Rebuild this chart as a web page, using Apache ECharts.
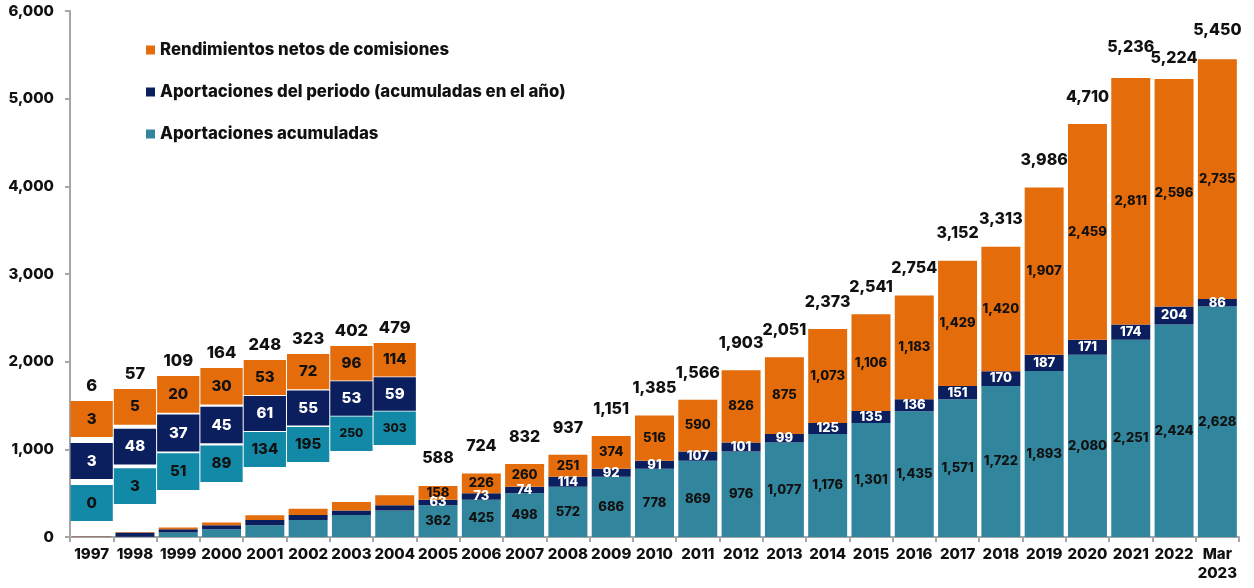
<!DOCTYPE html>
<html>
<head>
<meta charset="utf-8">
<script src="https://cdn.jsdelivr.net/npm/echarts@6/dist/echarts.min.js"></script>
<style>
html,body{margin:0;padding:0;background:#fff;}
#chart{width:1254px;height:588px;}
</style>
</head>
<body>
<div id="chart"></div>
<script>
// ---- data ----
var categories = ['1997','1998','1999','2000','2001','2002','2003','2004','2005','2006','2007','2008','2009','2010','2011','2012','2013','2014','2015','2016','2017','2018','2019','2020','2021','2022','Mar\n2023'];
var acumuladas = [0,3,51,89,134,195,250,303,362,425,498,572,686,778,869,976,1077,1176,1301,1435,1571,1722,1893,2080,2251,2424,2628];
var periodo = [3,48,37,45,61,55,53,59,63,73,74,114,92,91,107,101,99,125,135,136,151,170,187,171,174,204,86];
var rendimientos = [3,5,20,30,53,72,96,114,158,226,260,251,374,516,590,826,875,1073,1106,1183,1429,1420,1907,2459,2811,2596,2735];
var totales = [6,57,109,164,248,323,402,479,588,724,832,937,1151,1385,1566,1903,2051,2373,2541,2754,3152,3313,3986,4710,5236,5224,5450];
var yTicks = [0,1000,2000,3000,4000,5000,6000];
var seriesNames = ['Rendimientos netos de comisiones','Aportaciones del periodo (acumuladas en el año)','Aportaciones acumuladas'];

// ---- layout only (axis units / pixels, not data) ----
var insetCount = 8;
var insetBottom = [182,376,536,627,798,855,981,1049];
var insetTop = [1551,1688,1836,1928,2019,2087,2179,2213];
var insetGap = [69,45,20,25,10,15,10,8];
// vertical pixel lift of total labels above bar tops (default 27)
var totalLift = {20: 27, 24: 31, 25: 21, 26: 29};

var C_ORANGE = '#E46C0A', C_NAVY = '#0B1F5E', C_TEAL = '#31869E', C_TEAL2 = '#128AA7';
var FONT = "Inter, 'Open Sans', sans-serif";
var FW = 800;

function fmt(v){ return Number(v).toLocaleString('en-US'); }

var chart = echarts.init(document.getElementById('chart'), null, {renderer:'canvas'});

var insetData = [];
for (var i = 0; i < insetCount; i++) {
  insetData.push([i, acumuladas[i], periodo[i], rendimientos[i], totales[i], insetBottom[i], insetTop[i], insetGap[i]]);
}
var totalData = [];
for (var j = insetCount; j < categories.length; j++) totalData.push([j, totales[j]]);

function segLabel(color){
  return {
    show: true, position: 'inside', color: color, fontFamily: FONT, fontWeight: FW, fontSize: 13,
    formatter: function(p){ return p.dataIndex < insetCount ? '' : fmt(p.value); }
  };
}

var option = {
  animation: false,
  backgroundColor: '#fff',
  textStyle: {fontFamily: FONT},
  grid: {left: 70, right: 15, top: 11, bottom: 51, containLabel: false},
  legend: {
    data: seriesNames,
    orient: 'vertical', left: 146, top: 41, padding: 0,
    icon: 'rect', itemWidth: 9, itemHeight: 9, itemGap: 24,
    textStyle: {fontFamily: FONT, fontWeight: FW, fontSize: 16.8, color: '#111', lineHeight: 18},
    selectedMode: false
  },
  xAxis: {
    type: 'category', data: categories,
    axisLine: {lineStyle: {color: '#A6A6A6', width: 2}},
    axisTick: {show: true, length: 5, lineStyle: {color: '#A6A6A6', width: 2}},
    axisLabel: {color: '#111', fontFamily: FONT, fontWeight: FW, fontSize: 15, margin: 8, lineHeight: 19, interval: 0}
  },
  yAxis: {
    type: 'value', min: yTicks[0], max: yTicks[yTicks.length-1], interval: 1000,
    axisLine: {show: true, lineStyle: {color: '#A6A6A6', width: 2}},
    axisTick: {show: true, length: 5, lineStyle: {color: '#A6A6A6', width: 2}},
    splitLine: {show: false},
    axisLabel: {color: '#111', fontFamily: FONT, fontWeight: FW, fontSize: 15, margin: 16, formatter: function(v){ return fmt(v); }}
  },
  series: [
    {name: seriesNames[2], type: 'bar', stack: 'total', data: acumuladas, barCategoryGap: '10%',
      itemStyle: {color: C_TEAL}, label: segLabel('#111')},
    {name: seriesNames[1], type: 'bar', stack: 'total', data: periodo,
      itemStyle: {color: C_NAVY}, label: segLabel('#fff')},
    {name: seriesNames[0], type: 'bar', stack: 'total', data: rendimientos,
      itemStyle: {color: C_ORANGE}, label: segLabel('#111')},
    {name: 'totales', type: 'custom', data: totalData, z: 5,
      encode: {x: 0, y: 1},
      renderItem: function(params, api){
        var idx = api.value(0);
        var p = api.coord([idx, api.value(1)]);
        var lift = totalLift[idx] || 27;
        return {type: 'text', style: {text: fmt(api.value(1)), x: p[0], y: p[1] - lift, align: 'center', verticalAlign: 'middle',
          fill: '#111', fontFamily: FONT, fontWeight: FW, fontSize: 16}};
      }
    },
    {name: 'inset', type: 'custom', data: insetData, z: 4,
      encode: {x: 0, y: [5, 6]},
      renderItem: function(params, api){
        var idx = api.value(0);
        var bottom = api.value(5), top = api.value(6), gap = api.value(7);
        var h = (top - bottom - 2 * gap) / 3;
        var band = api.size([1, 0])[0];
        var cx = api.coord([idx, 0])[0];
        var x0 = cx - band / 2 + 0.5, w = band - 1;
        var vals = [api.value(1), api.value(2), api.value(3)];
        var fills = [C_TEAL2, C_NAVY, C_ORANGE];
        var txt = ['#111', '#fff', '#111'];
        var children = [];
        for (var k = 0; k < 3; k++) {
          var b = bottom + k * (h + gap), t = b + h;
          var pb = api.coord([idx, b])[1], pt = api.coord([idx, t])[1];
          children.push({type: 'rect', shape: {x: x0, y: pt, width: w, height: pb - pt}, style: {fill: fills[k]}});
          var fs = (k === 0 && idx >= 6) ? 12 : 15;
          children.push({type: 'text', z2: 10, style: {text: fmt(vals[k]), x: cx, y: (pt + pb) / 2, align: 'center', verticalAlign: 'middle',
            fill: txt[k], fontFamily: FONT, fontWeight: FW, fontSize: fs}});
        }
        var ptop = api.coord([idx, top])[1];
        children.push({type: 'text', z2: 10, style: {text: fmt(api.value(4)), x: cx, y: ptop - 15, align: 'center', verticalAlign: 'middle',
          fill: '#111', fontFamily: FONT, fontWeight: FW, fontSize: 16.5}});
        return {type: 'group', children: children};
      }
    }
  ]
};
chart.setOption(option);
</script>
</body>
</html>
